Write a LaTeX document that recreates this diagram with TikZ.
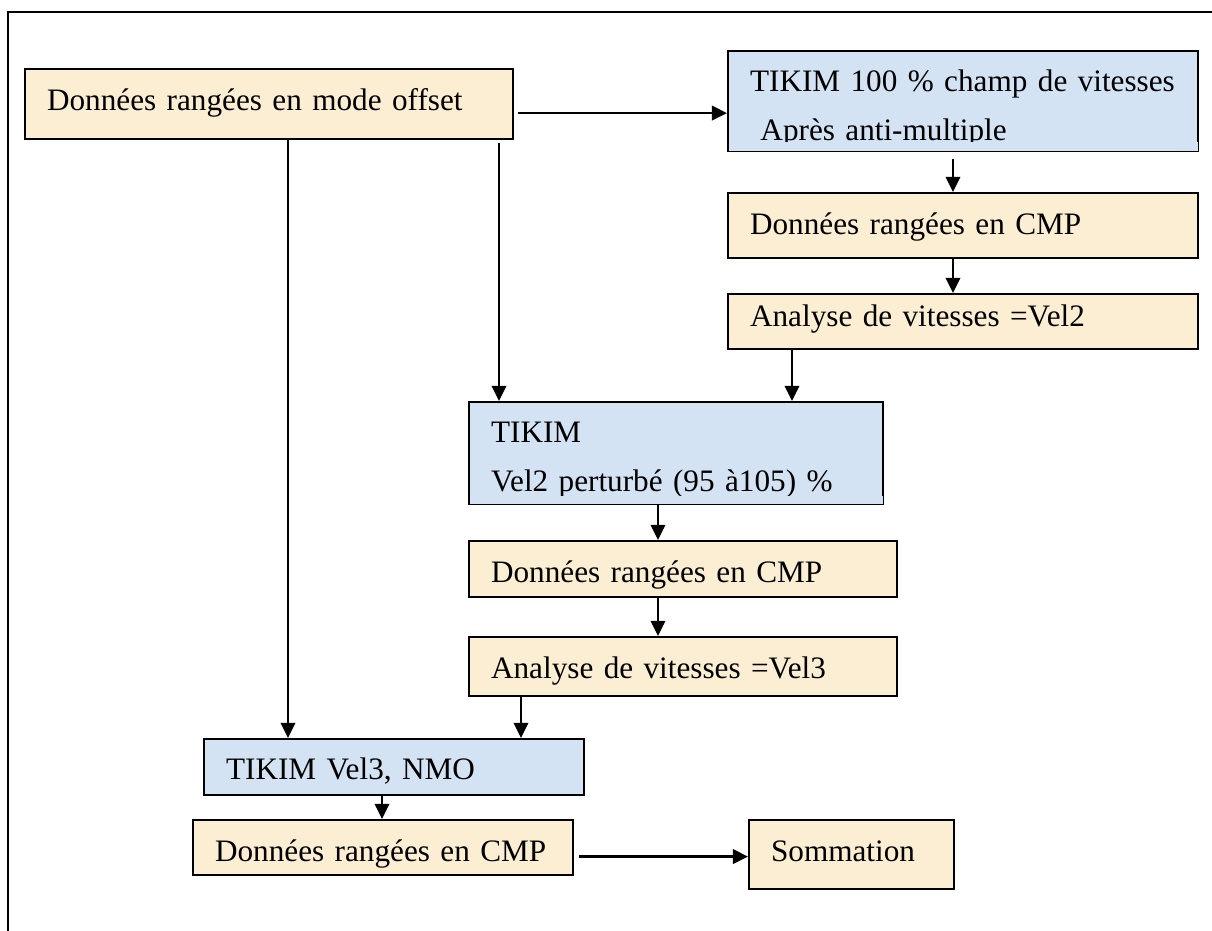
\documentclass[tikz,border=0pt]{standalone}
\usepackage{fontspec}
\setmainfont{Liberation Serif}
\usetikzlibrary{arrows.meta}
\definecolor{parchment}{RGB}{252,238,210}
\definecolor{iceblue}{RGB}{211,227,244}
\newcommand{\boxfont}{\fontsize{22.2pt}{34.85pt}\selectfont}

\begin{document}
\begin{tikzpicture}[
  x=0.025cm, y=-0.025cm,
  box/.style={draw, line width=1.5pt, fill=#1, anchor=north west, inner xsep=0.55cm, inner ysep=0pt,
    align=left, text height=1.025cm, font=\boxfont},
  arr/.style={-{Triangle[length=0.38cm,width=0.36cm]}, line width=1.9pt},
]
  \useasboundingbox (0,0) rectangle (1212,930);
  \draw[line width=1.2pt] (8,12) rectangle (1240,960);

  % left column and right column of steps
  \node[box=parchment, text width=11.1cm, text depth=0.725cm] (offset) at (24,68) {Données rangées en mode offset};
  \node[box=iceblue, text width=10.65cm, text height=1cm, text depth=1.5cm] (tikA) at (727,50)
    {TIKIM 100 \% champ de vitesses\\~Après anti-multiple};
  \node[box=parchment, text width=10.65cm, text depth=0.6cm] (cmpA) at (727,192) {Données rangées en CMP};
  \node[box=parchment, text width=10.65cm, text height=0.8cm, text depth=0.575cm] (velA) at (727,293) {Analyse de vitesses =Vel2};
  \node[box=iceblue, text width=9.25cm, text height=1cm, text depth=1.55cm] (tikB) at (468,401)
    {TIKIM\\Vel2 perturbé (95 à105) \%};
  \node[box=parchment, text width=9.6cm, text depth=0.375cm] (cmpB) at (468,540) {Données rangées en CMP};
  \node[box=parchment, text width=9.6cm, text depth=0.45cm] (velB) at (468,636) {Analyse de vitesses =Vel3};
  \node[box=iceblue, text width=8.4cm, text height=1cm, text depth=0.4cm] (tikC) at (203,738) {TIKIM Vel3, NMO};
  \node[box=parchment, text width=8.4cm, text depth=0.35cm] (cmpC) at (192,819) {Données rangées en CMP};
  \node[box=parchment, text width=4.025cm, text depth=0.7cm] (somm) at (748,819) {Sommation};

  % text cut at the foot of the two-line boxes
  \fill[iceblue] ([shift={(0.04cm,0.04cm)}]tikA.south west) rectangle ([shift={(-0.04cm,0.25cm)}]tikA.south east);
  \fill[iceblue] ([shift={(0.04cm,0.04cm)}]tikB.south west) rectangle ([shift={(-0.04cm,0.225cm)}]tikB.south east);

  \coordinate (hA) at ([xshift=0.1cm,yshift=-0.225cm]offset.east);
  \coordinate (hC) at ([xshift=0.125cm,yshift=-0.225cm]cmpC.east);

  \draw[arr] (hA) -- (hA -| tikA.west);
  \draw[arr] (offset.south -| 288,0) -- (tikC.north -| 288,0);
  \draw[arr, shorten <=0.075cm] (offset.south -| 499,0) -- (tikB.north -| 499,0);
  \draw[arr, shorten <=0.175cm] (tikA.south -| 953,0) -- (cmpA.north -| 953,0);
  \draw[arr] (cmpA.south -| 953,0) -- (velA.north -| 953,0);
  \draw[arr] (velA.south -| 792,0) -- (tikB.north -| 792,0);
  \draw[arr] (tikB.south -| 658,0) -- (cmpB.north -| 658,0);
  \draw[arr] (cmpB.south -| 658,0) -- (velB.north -| 658,0);
  \draw[arr] (velB.south -| 521,0) -- (tikC.north -| 521,0);
  \draw[arr] (tikC.south -| 382,0) -- (cmpC.north -| 382,0);
  \draw[arr] (hC) -- (hC -| somm.west);
\end{tikzpicture}
\end{document}
